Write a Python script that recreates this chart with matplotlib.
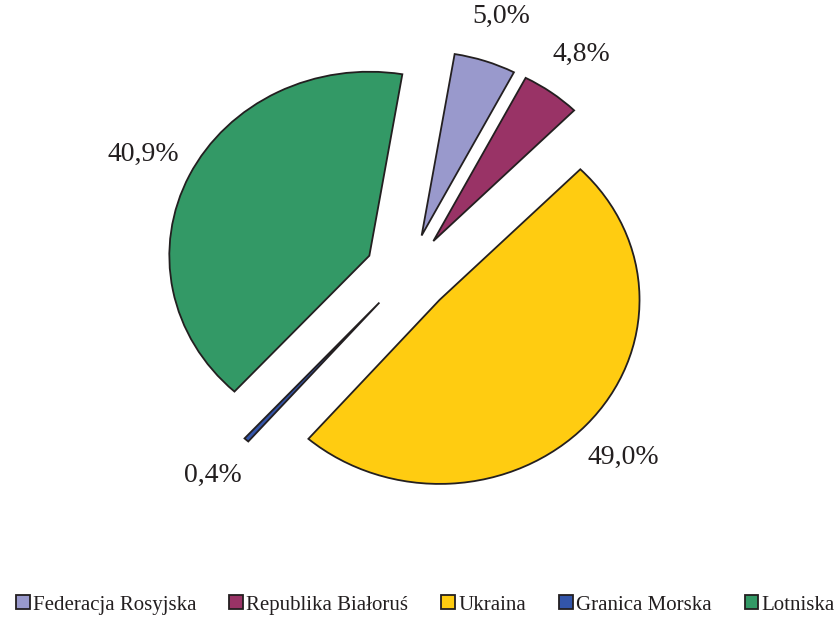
import matplotlib.pyplot as plt

# udzial przejsc granicznych
labels = ["Federacja Rosyjska", "Republika Białoruś", "Ukraina", "Granica Morska", "Lotniska"]
values = [5.0, 4.8, 49.0, 0.4, 40.9]
pct_labels = ["5,0%", "4,8%", "49,0%", "0,4%", "40,9%"]
colors = ["#9999CC", "#993366", "#FFCC11", "#3355AA", "#339966"]

plt.rcParams["font.family"] = ["Liberation Serif", "DejaVu Serif"]
ink = "#231F20"

fig = plt.figure(figsize=(8.39, 6.18), dpi=100)
ax = fig.add_axes([0, 0, 1, 1])

wedges, texts, autotexts = ax.pie(
    values,
    colors=colors,
    explode=[0.215] * len(values),
    startangle=80.5,
    counterclock=False,
    radius=1.0,
    autopct="%1.1f%%",
    pctdistance=1.255,
    wedgeprops=dict(edgecolor=ink, linewidth=1.3),
    textprops=dict(fontsize=20, color=ink),
)
for t, s in zip(autotexts, pct_labels):
    t.set_text(s)

# wykres lekko splaszczony w pionie, jak w oryginale
ax.set_xlim(-2.04, 2.155)
ax.set_ylim(-1.875, 1.484)
ax.set_aspect("auto")
ax.axis("off")

fig.legend(
    wedges, labels,
    loc="center", bbox_to_anchor=(0.507, 0.021),
    ncol=5, frameon=False,
    fontsize=15, labelcolor=ink,
    handlelength=0.65, handleheight=0.65,
    handletextpad=0.15, columnspacing=1.6,
)

fig.savefig("out.png", dpi=100)
